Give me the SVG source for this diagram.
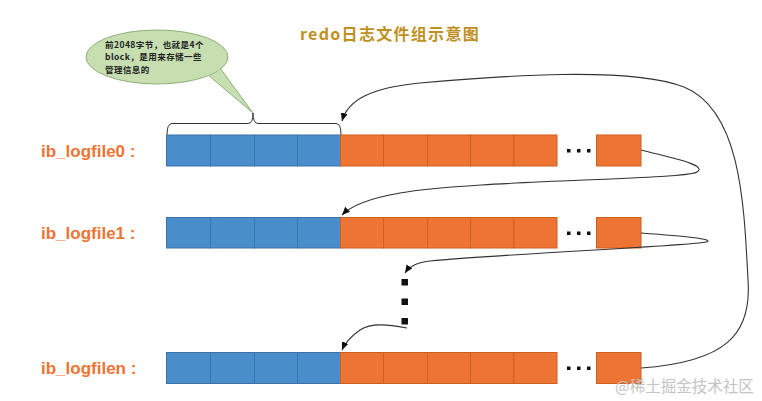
<svg xmlns="http://www.w3.org/2000/svg" width="762" height="401" viewBox="0 0 762 401">
<style>
.b{fill:#4A8DCB;stroke:#3D72AA;stroke-width:1}
.o{fill:#EE7434;stroke:#CF5F1F;stroke-width:1}
.lbl{font-family:"Liberation Sans",Arial,sans-serif;font-weight:bold;font-size:17px;fill:#EE7434}
.dot{fill:#111}
.con{fill:none;stroke:#333;stroke-width:1.1}
.bt{font-family:"Noto Sans CJK SC",sans-serif;font-weight:bold;font-size:8.5px;letter-spacing:0.45px;fill:#222}
</style>
<defs>
<marker id="ah" markerUnits="userSpaceOnUse" markerWidth="9" markerHeight="8" refX="8" refY="3.5" orient="auto">
<path d="M0,0 L8,3.5 L0,7 z" fill="#111"/>
</marker>
</defs>
<rect width="762" height="401" fill="#fff"/>
<text x="300" y="40" font-family="'Noto Sans CJK SC',sans-serif" font-weight="bold" font-size="16" fill="#C0901E" letter-spacing="1.3">redo日志文件组示意图</text>
<g id="callout">
<path d="M208,75 L253,113 L220,68 Z" fill="#C6DEB0" stroke="#8FB07A" stroke-width="1"/>
<ellipse cx="157" cy="57" rx="71" ry="27" fill="#C6DEB0" stroke="#8FB07A" stroke-width="1"/>
<path d="M207.5,74.5 L219.5,68.5" stroke="#C6DEB0" stroke-width="2"/>
<text class="bt" x="105" y="47.5">前2048字节，也就是4个</text>
<text class="bt" x="105" y="60">block，是用来存储一些</text>
<text class="bt" x="105" y="72.5">管理信息的</text>
</g>
<g id="brace">
<path d="M167,135 Q167,123.5 172,123.5 L248,123.5 Q253,123.5 253,113 Q253,123.5 258,123.5 L336,123.5 Q341,123.5 341,135" fill="none" stroke="#333" stroke-width="1"/>
</g>
<g id="ib_logfile0">
<text class="lbl" x="41" y="157">ib_logfile0 :</text>
<rect class="b" x="166.5" y="135" width="44" height="31"/>
<rect class="b" x="210.5" y="135" width="44" height="31"/>
<rect class="b" x="254.5" y="135" width="43" height="31"/>
<rect class="b" x="297.5" y="135" width="43" height="31"/>
<rect class="o" x="340.5" y="135" width="43" height="31"/>
<rect class="o" x="383.5" y="135" width="44" height="31"/>
<rect class="o" x="427.5" y="135" width="43" height="31"/>
<rect class="o" x="470.5" y="135" width="43.5" height="31"/>
<rect class="o" x="514" y="135" width="43" height="31"/>
<rect class="dot" x="567" y="149" width="3.5" height="3.5"/>
<rect class="dot" x="577" y="149" width="3.5" height="3.5"/>
<rect class="dot" x="587" y="149" width="3.5" height="3.5"/>
<rect class="o" x="596.5" y="135" width="44.5" height="31"/>
</g>
<g id="ib_logfile1">
<text class="lbl" x="41" y="239">ib_logfile1 :</text>
<rect class="b" x="166.5" y="217.5" width="44" height="30.5"/>
<rect class="b" x="210.5" y="217.5" width="44" height="30.5"/>
<rect class="b" x="254.5" y="217.5" width="43" height="30.5"/>
<rect class="b" x="297.5" y="217.5" width="43" height="30.5"/>
<rect class="o" x="340.5" y="217.5" width="43" height="30.5"/>
<rect class="o" x="383.5" y="217.5" width="44" height="30.5"/>
<rect class="o" x="427.5" y="217.5" width="43" height="30.5"/>
<rect class="o" x="470.5" y="217.5" width="43.5" height="30.5"/>
<rect class="o" x="514" y="217.5" width="43" height="30.5"/>
<rect class="dot" x="567" y="231.5" width="3.5" height="3.5"/>
<rect class="dot" x="577" y="231.5" width="3.5" height="3.5"/>
<rect class="dot" x="587" y="231.5" width="3.5" height="3.5"/>
<rect class="o" x="596.5" y="217.5" width="44.5" height="30.5"/>
</g>
<g id="vdots">
<rect class="dot" x="401.5" y="279" width="6.5" height="6.5"/>
<rect class="dot" x="401.5" y="298.5" width="6.5" height="6.5"/>
<rect class="dot" x="401.5" y="318" width="6.5" height="6.5"/>
</g>
<g id="ib_logfilen">
<text class="lbl" x="41" y="374">ib_logfilen :</text>
<rect class="b" x="166.5" y="352.5" width="44" height="31"/>
<rect class="b" x="210.5" y="352.5" width="44" height="31"/>
<rect class="b" x="254.5" y="352.5" width="43" height="31"/>
<rect class="b" x="297.5" y="352.5" width="43" height="31"/>
<rect class="o" x="340.5" y="352.5" width="43" height="31"/>
<rect class="o" x="383.5" y="352.5" width="44" height="31"/>
<rect class="o" x="427.5" y="352.5" width="43" height="31"/>
<rect class="o" x="470.5" y="352.5" width="43.5" height="31"/>
<rect class="o" x="514" y="352.5" width="43" height="31"/>
<rect class="dot" x="567" y="366.5" width="3.5" height="3.5"/>
<rect class="dot" x="577" y="366.5" width="3.5" height="3.5"/>
<rect class="dot" x="587" y="366.5" width="3.5" height="3.5"/>
<rect class="o" x="596.5" y="352.5" width="44.5" height="31"/>
</g>
<g id="connectors">
<path class="con" marker-end="url(#ah)" d="M641,368 C725,362 752,335 748,280 C744,200 740,110 684,87 C630,66 500,76 420,83 C370,88 348,100 342,121"/>
<path class="con" marker-end="url(#ah)" d="M641,150 C672,158 708,165 697,172 C686,180 470,180 400,193 C365,199 350,207 342,215"/>
<path class="con" marker-end="url(#ah)" d="M641,233 C680,236 717,239 706,242 C690,246 500,254 430,261 C415,263 409,267 405,273"/>
<path class="con" marker-end="url(#ah)" d="M407,328 C390,325 372,322 360,330 C350,337 345,343 342,350"/>
</g>
<text x="615" y="392" font-family="'Noto Sans CJK SC',sans-serif" font-size="15.5" fill="#C4C4C4">@稀土掘金技术社区</text>
</svg>
